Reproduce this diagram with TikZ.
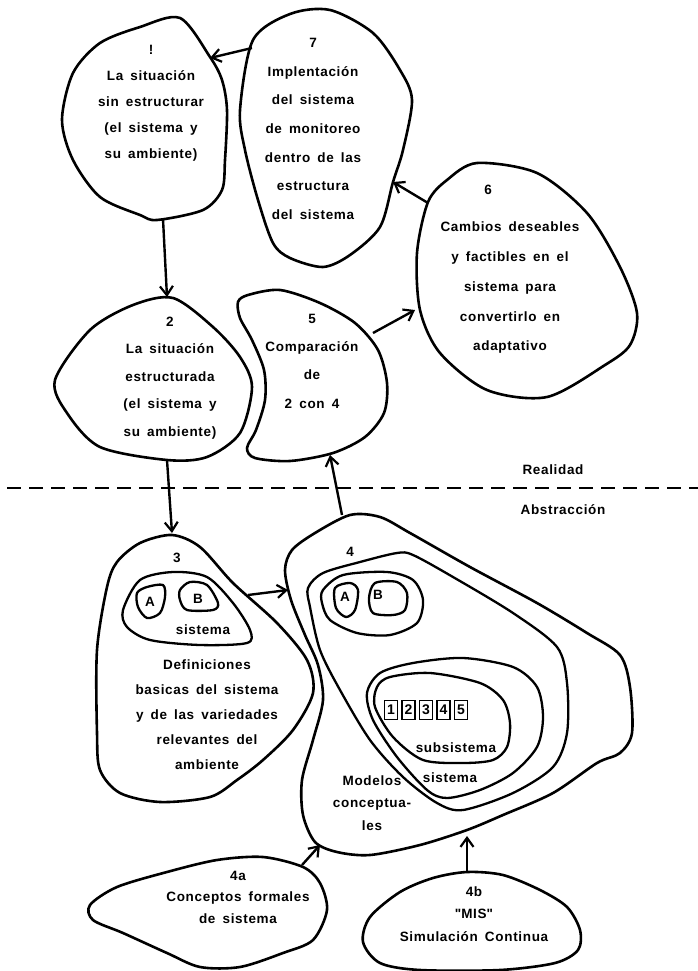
\documentclass[tikz,border=0pt]{standalone}
\usepackage{fontspec}
\setmainfont{Liberation Sans}[LetterSpace=5, WordSpace=1.6]
\usetikzlibrary{arrows.meta}
\newcommand{\lettering}[1]{\fontsize{13.5}{#1}\selectfont\bfseries}
\begin{document}
\begin{tikzpicture}[x=1pt,y=-1pt,
  blob/.style={line width=2.6pt, line join=round},
  inner/.style={line width=2.3pt, line join=round},
  arr/.style={line width=2.4pt, -{Straight Barb[length=9pt,width=13pt,line width=2.2pt]}},
  lbl/.style={inner sep=0pt, align=center, font=\lettering{26}},
  numbox/.style={draw, line width=1.7pt, minimum width=13pt, minimum height=19pt, inner sep=0pt,
    font=\fontsize{14}{14}\selectfont\bfseries}]
\useasboundingbox (0,0) rectangle (698,971);

% ---- 1: la situacion sin estructurar
\draw[blob] plot[smooth cycle] coordinates {(180,18) (210,57) (222,80) (227,110) (225,160) (222,190)
  (203,210) (157,220) (140,215) (100,197) (73,160) (62,120) (73,73) (100,43) (140,27)};
\node[lbl] (t1) at (151,103) {!\\La situación\\sin estructurar\\(el sistema y\\su ambiente)};

% ---- 7: implementacion
\draw[blob] plot[smooth cycle] coordinates {(330,10) (373,33) (400,70) (412,100) (403,150) (393,182)
  (380,227) (350,255) (323,267) (290,258) (273,243) (258,200) (245,150) (240,110) (253,40) (290,14)};
\node[lbl, font=\lettering{28.7}] (t7) at (313,129)
  {7\\Implentación\\del sistema\\de monitoreo\\dentro de las\\estructura\\del sistema};

% ---- 6: cambios deseables
\draw[blob] plot[smooth cycle] coordinates {(477,163) (537,173) (587,213) (620,267) (637,313) (630,345)
  (605,365) (547,397) (487,390) (440,353) (420,310) (417,253) (428,202) (447,180)};
\node[lbl] (n6) at (488,190) {6};
\node[lbl, font=\lettering{29.75}] (t6) at (510,288)
  {Cambios deseables\\y factibles en el\\sistema para\\convertirlo en\\adaptativo};

% ---- 2: la situacion estructurada
\draw[blob] plot[smooth cycle] coordinates {(173,298) (213,327) (240,357) (252,387) (240,433) (207,457)
  (167,460) (100,447) (67,413) (55,380) (90,330) (133,305)};
\node[lbl, font=\lettering{27.5}] (t2) at (170,378)
  {2\\La situación\\estructurada\\(el sistema y\\su ambiente)};

% ---- 5: comparacion
\draw[blob] plot[smooth cycle, tension=0.5] coordinates {(248,295) (280,290) (320,303) (355,323) (378,350)
  (387,383) (384,413) (365,437) (333,453) (290,461) (255,458) (247,448) (256,430) (265,400)
  (264,370) (252,340) (240,318) (238,302)};
\node[lbl, font=\lettering{28.3}] (t5) at (312,361)
  {5\\Comparación\\de\\2 con 4};

% ---- dividing line between reality and abstraction
\coordinate (lineL) at (7,488);
\coordinate (lineR) at (698,488);
\draw[line width=2pt, dash pattern=on 14pt off 8pt] (lineL) -- (lineR);
\node[lbl] (real) at (553,470) {Realidad};
\node[lbl] (abst) at (563,510) {Abstracción};

% ---- 3: definiciones basicas
\draw[blob] plot[smooth cycle] coordinates {(172,535) (200,547) (233,583) (277,623) (307,660) (313,693)
  (293,730) (263,760) (237,780) (210,797) (160,802) (120,793) (100,770) (97,733) (97,650)
  (107,587) (117,562) (140,543)};
\node[lbl] (n3) at (177,558) {3};
\draw[inner] plot[smooth cycle] coordinates {(140,580) (173,572) (207,577) (233,603) (250,630) (247,643)
  (200,645) (150,640) (127,627) (123,610)};
\draw[inner] plot[smooth cycle] coordinates {(137,593) (147,587) (163,585) (165,597) (160,613) (147,618) (138,607)};
\draw[inner] plot[smooth cycle] coordinates {(180,590) (190,582) (207,585) (218,603) (213,610) (187,610) (180,600)};
\node[lbl] (a3) at (150,602) {A};
\node[lbl] (b3) at (198,599) {B};
\node[lbl] (s3) at (203,630) {sistema};
\node[lbl, font=\lettering{25}] (t3) at (207,715)
  {Definiciones\\basicas del sistema\\y de las variedades\\relevantes del\\ambiente};

% ---- 4: modelos conceptuales
\draw[blob] plot[smooth cycle] coordinates {(350,515) (380,517) (410,533) (470,567) (537,603) (587,633)
  (620,655) (630,687) (632,733) (620,753) (597,763) (553,793) (503,815) (467,830) (420,845)
  (370,855) (337,852) (315,842) (303,815) (302,780) (313,740) (323,700) (318,665) (305,635)
  (291,600) (285,570) (292,550) (315,533)};
\node[lbl] (n4) at (350,552) {4};
\draw[inner] plot[smooth cycle] coordinates {(323,573) (360,562) (397,553) (413,555) (453,577) (513,613)
  (557,647) (567,683) (567,733) (553,767) (513,793) (463,810) (437,803) (403,777) (370,740)
  (340,690) (320,650) (310,607) (308,588)};
\draw[inner] plot[smooth cycle] coordinates {(323,590) (343,575) (387,572) (413,580) (423,600) (417,623)
  (390,635) (357,633) (330,620) (322,603)};
\draw[inner] plot[smooth cycle] coordinates {(335,588) (350,583) (358,590) (355,610) (346,617) (336,608)};
\draw[inner] plot[smooth cycle] coordinates {(375,583) (397,582) (407,593) (405,610) (393,615) (373,613) (369,598)};
\node[lbl] (a4) at (345,597) {A};
\node[lbl] (b4) at (378,595) {B};
\draw[inner] plot[smooth cycle] coordinates {(367,693) (380,673) (413,663) (463,658) (513,667) (537,687)
  (543,717) (537,747) (513,773) (480,790) (447,798) (427,790) (397,757) (373,720)};
\draw[inner] plot[smooth cycle] coordinates {(377,687) (390,677) (430,673) (480,683) (503,700) (510,723)
  (507,747) (493,760) (463,763) (423,760) (393,737) (375,707)};
\node[numbox] (d1) at (391,710) {1};
\node[numbox] (d2) at (408.5,710) {2};
\node[numbox] (d3) at (426,710) {3};
\node[numbox] (d4) at (443.5,710) {4};
\node[numbox] (d5) at (461,710) {5};
\node[lbl] (sub4) at (456,748) {subsistema};
\node[lbl] (sis4) at (450,778) {sistema};
\node[lbl, font=\lettering{22.5}] (t4) at (372,803)
  {Modelos\\conceptua-\\les};

% ---- 4a: conceptos formales
\draw[blob] plot[smooth cycle] coordinates {(117,887) (167,872) (217,860) (263,857) (303,867) (320,883)
  (327,910) (313,940) (283,953) (240,967) (200,967) (167,953) (123,933) (93,920) (90,905)};
\node[lbl, font=\lettering{21.5}] (t4a) at (238,897)
  {4a\\Conceptos formales\\de sistema};

% ---- 4b: MIS
\draw[blob] plot[smooth cycle] coordinates {(467,872) (503,875) (540,890) (567,907) (580,930) (578,950)
  (555,963) (500,970) (420,970) (380,963) (363,942) (370,917) (400,892) (433,878)};
\node[lbl, font=\lettering{22.5}] (t4b) at (474,914)
  {4b\\\textquotedbl MIS\textquotedbl\\Simulación Continua};

% ---- connector end points on the outlines
\coordinate (p7w) at (252,48);   \coordinate (p1ne) at (210,58);
\coordinate (p1s) at (163,219);  \coordinate (p2n) at (167,297);
\coordinate (p2s) at (167,460);  \coordinate (p3n) at (172,533);
\coordinate (p3e) at (248,595);  \coordinate (p4w) at (288,590);
\coordinate (p4n) at (342,515);  \coordinate (p5s) at (330,455);
\coordinate (p5e) at (373,333);  \coordinate (p6w) at (415,310);
\coordinate (p6nw) at (428,203); \coordinate (p7e) at (393,182);
\coordinate (p4an) at (302,865); \coordinate (p4sw) at (320,845);
\coordinate (p4bn) at (467,872); \coordinate (p4s) at (467,836);

\draw[arr] (p7w) -- (p1ne);
\draw[arr] (p1s) -- (p2n);
\draw[arr] (p2s) -- (p3n);
\draw[arr] (p3e) -- (p4w);
\draw[arr] (p4n) -- (p5s);
\draw[arr] (p5e) -- (p6w);
\draw[arr] (p6nw) -- (p7e);
\draw[arr] (p4an) -- (p4sw);
\draw[arr] (p4bn) -- (p4s);
\end{tikzpicture}
\end{document}
